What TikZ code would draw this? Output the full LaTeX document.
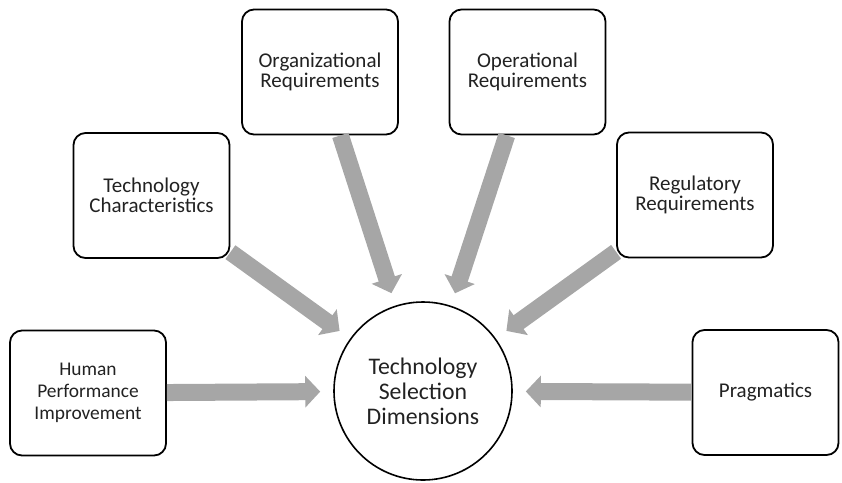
\documentclass[tikz,border=0pt]{standalone}
\usepackage{fontspec}
\setmainfont{Carlito}
\usetikzlibrary{arrows.meta}
\definecolor{arrowgray}{HTML}{A6A6A6}
\definecolor{txt}{HTML}{222222}
\tikzset{
  box/.style={draw=black, line width=1.8pt, rounded corners=12pt, fill=white,
    minimum width=156pt, minimum height=125pt, align=center, text=txt, inner sep=0pt,
    font=\fontsize{21}{20}\selectfont},
  hub/.style={draw=black, line width=1.6pt, circle, minimum size=178pt, align=center,
    text=txt, inner sep=0pt, font=\fontsize{23.8}{25}\selectfont},
  feed/.style={draw=arrowgray, line width=17pt, -{Triangle[width=31pt,length=15pt]},
    shorten >=13pt}
}
\begin{document}
\begin{tikzpicture}[x=1pt,y=-1pt]
\useasboundingbox (0,0) rectangle (842,482);
\node[box, font=\fontsize{19.4}{22}\selectfont] (hpi) at (88,393) {Human\\Performance\\Improvement};
\node[box] (tc) at (151.5,195.5) {Technology\\Characteristics};
\node[box] (org) at (320,72) {Organizational\\Requirements};
\node[box] (op) at (527.5,72) {Operational\\Requirements};
\node[box] (reg) at (695,195) {Regulatory\\Requirements};
\node[box, minimum width=146pt] (prag) at (765.5,392.5) {Pragmatics};
\node[hub] (c) at (423,391) {Technology\\Selection\\Dimensions};
\draw[feed] (hpi) -- (c);
\draw[feed] (tc) -- (c);
\draw[feed] (org) -- (c);
\draw[feed] (op) -- (c);
\draw[feed] (reg) -- (c);
\draw[feed] (prag) -- (c);
\end{tikzpicture}
\end{document}
